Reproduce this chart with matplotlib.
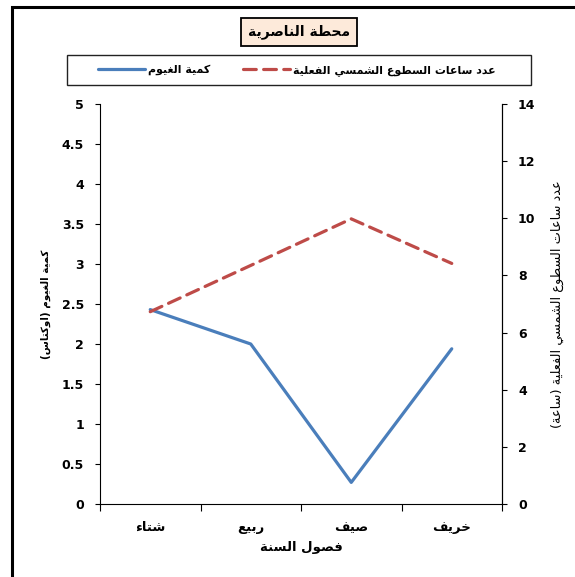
import matplotlib
matplotlib.use('Agg')
import matplotlib.pyplot as plt
from matplotlib.patches import Rectangle

# ---- data ----
seasons = ['شتاء', 'ربيع', 'صيف', 'خريف']
cloud_cover = [2.43, 2.0, 0.27, 1.94]          # oktas (left axis)
sunshine_hours = [6.73, 8.35, 9.98, 8.42]      # hours (right axis)

title = 'محطة الناصرية'
cloud_label = 'كمية الغيوم'
sun_label = 'عدد ساعات السطوع الشمسي الفعلية'
left_ylabel = 'كمية الغيوم (اوكتاس)'
right_ylabel = 'عدد ساعات السطوع الشمسي الفعلية (ساعة)'
xlabel = 'فصول السنة'

left_ticks = [0, 0.5, 1, 1.5, 2, 2.5, 3, 3.5, 4, 4.5, 5]
right_ticks = [0, 2, 4, 6, 8, 10, 12, 14]


# ---- minimal Arabic shaping (matplotlib has no bidi / joining) ----
_letters = [('\u0621', 1), ('\u0622', 2), ('\u0623', 2), ('\u0624', 2), ('\u0625', 2),
            ('\u0626', 4), ('\u0627', 2), ('\u0628', 4), ('\u0629', 2), ('\u062A', 4),
            ('\u062B', 4), ('\u062C', 4), ('\u062D', 4), ('\u062E', 4), ('\u062F', 2),
            ('\u0630', 2), ('\u0631', 2), ('\u0632', 2), ('\u0633', 4), ('\u0634', 4),
            ('\u0635', 4), ('\u0636', 4), ('\u0637', 4), ('\u0638', 4), ('\u0639', 4),
            ('\u063A', 4), ('\u0641', 4), ('\u0642', 4), ('\u0643', 4), ('\u0644', 4),
            ('\u0645', 4), ('\u0646', 4), ('\u0647', 4), ('\u0648', 2), ('\u0649', 2),
            ('\u064A', 4)]
FORMS = {}
_code = 0xFE80
for ch, n in _letters:
    FORMS[ch] = [chr(_code + k) for k in range(n)]
    _code += n
LAM_ALEF = {'\u0622': 0xFEF5, '\u0623': 0xFEF7, '\u0625': 0xFEF9, '\u0627': 0xFEFB}


def ar(text):
    # merge lam + alef into ligature tokens
    toks = []
    i = 0
    while i < len(text):
        if text[i] == '\u0644' and i + 1 < len(text) and text[i + 1] in LAM_ALEF:
            toks.append(('LA', text[i + 1]))
            i += 2
        else:
            toks.append(('C', text[i]))
            i += 1

    def nforms(t):
        if t[0] == 'LA':
            return 2
        return len(FORMS.get(t[1], []))

    out = []
    for i, t in enumerate(toks):
        n = nforms(t)
        if n == 0:
            out.append(t[1])
            continue
        prev_j = i > 0 and nforms(toks[i - 1]) == 4 and n >= 2
        next_j = n == 4 and i + 1 < len(toks) and nforms(toks[i + 1]) >= 2
        if t[0] == 'LA':
            out.append(chr(LAM_ALEF[t[1]] + (1 if prev_j else 0)))
            continue
        if prev_j and next_j:
            f = 3
        elif prev_j:
            f = 1
        elif next_j:
            f = 2
        else:
            f = 0
        out.append(FORMS[t[1]][f])
    vis = ''.join(reversed(out))
    return vis.translate(str.maketrans('()', ')('))


plt.rcParams['font.family'] = ['DejaVu Sans']

fig = plt.figure(figsize=(5.75, 5.77), dpi=100)
ax = fig.add_axes([100 / 575, 1 - 504 / 577, 402 / 575, 400 / 577])
ax2 = ax.twinx()

x = list(range(len(seasons)))
l1, = ax.plot(x, cloud_cover, color='#4A7EBB', lw=2.3, solid_capstyle='round',
              label=ar(cloud_label), zorder=3)
l2, = ax2.plot(x, sunshine_hours, color='#BE4B48', lw=2.3, dashes=(4, 2.3),
               dash_capstyle='round', label=ar(sun_label))

ax.set_xlim(-0.5, len(seasons) - 0.5)
ax.set_ylim(0, 5)
ax2.set_ylim(0, 14)
ax.set_yticks(left_ticks)
ax.set_yticklabels([f'{v:g}' for v in left_ticks])
ax2.set_yticks(right_ticks)

ax.set_xticks(x)
ax.set_xticklabels([ar(s) for s in seasons], fontsize=9.5, fontweight='bold')
ax.set_xticks([v - 0.5 for v in range(len(seasons) + 1)], minor=True)
ax.tick_params(axis='x', which='major', length=0, pad=12)
ax.tick_params(axis='x', which='minor', length=5, width=0.8, direction='out')
ax.tick_params(axis='y', length=3.5, width=0.8, pad=8, labelsize=9)
ax2.tick_params(axis='y', length=3.5, width=0.8, pad=8, labelsize=9)
for lab in ax.get_yticklabels() + ax2.get_yticklabels():
    lab.set_fontweight('bold')

for a in (ax, ax2):
    a.spines['top'].set_visible(False)
    for s in a.spines.values():
        s.set_linewidth(0.8)
ax2.spines['left'].set_visible(False)
ax2.spines['bottom'].set_visible(False)

ax.set_xlabel(ar(xlabel), fontsize=9.5, fontweight='bold', labelpad=5)
ax.set_ylabel(ar(left_ylabel), fontsize=7.4, fontweight='bold', va='center')
ax.yaxis.set_label_coords(-0.134, 0.5)
ax2.set_ylabel(ar(right_ylabel), fontsize=9.3, rotation=90, va='center')
ax2.yaxis.set_label_coords(1.139, 0.5)

# title box
fig.text(299 / 575, 1 - 32 / 577, ar(title), ha='center', va='center',
         fontsize=10, fontweight='bold',
         bbox=dict(boxstyle='square,pad=0.5', fc='#FDEADA', ec='black', lw=1.3))

# legend box
fig.add_artist(Rectangle((67 / 575, 1 - 85 / 577), 464 / 575, 30 / 577,
                         transform=fig.transFigure, fill=False, ec='#222222', lw=1))
fig.legend(handles=[l1, l2], loc='center left', ncol=2, frameon=False,
           bbox_to_anchor=(98 / 575, 1 - 70 / 577), borderpad=0, borderaxespad=0,
           handlelength=4.3, handletextpad=0.3, columnspacing=2.9,
           prop={'size': 7.9, 'weight': 'bold'})

# outer chart border (cropped: only left and top edges visible)
fig.add_artist(Rectangle((12 / 575, -0.1), 1.2, 1.1 - 7 / 577,
                         transform=fig.transFigure, fill=False, ec='black', lw=2.2))

fig.savefig('out.png', dpi=100)
